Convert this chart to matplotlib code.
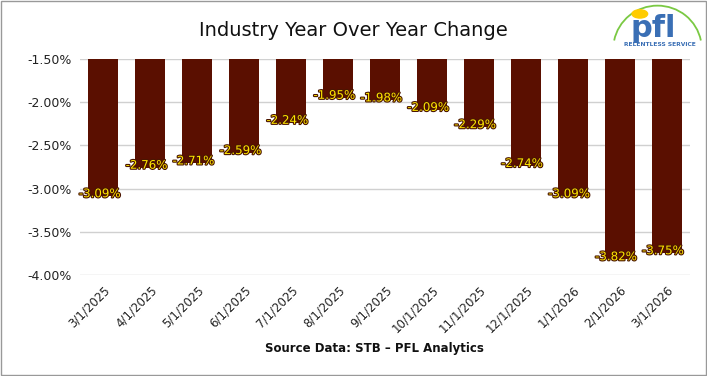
import matplotlib.pyplot as plt
import matplotlib.patheffects as pe
from matplotlib.patches import Rectangle, Arc, Circle
import numpy as np

dates = ["3/1/2025", "4/1/2025", "5/1/2025", "6/1/2025", "7/1/2025", "8/1/2025",
         "9/1/2025", "10/1/2025", "11/1/2025", "12/1/2025", "1/1/2026", "2/1/2026",
         "3/1/2026"]
yoy_change = [-3.09, -2.76, -2.71, -2.59, -2.24, -1.95, -1.98, -2.09, -2.29,
              -2.74, -3.09, -3.82, -3.75]
y_ticks = [-1.5, -2.0, -2.5, -3.0, -3.5, -4.0]
base = -1.5

BAR = "#5a0f00"

fig = plt.figure(figsize=(7.07, 3.76), dpi=100)
ax = fig.add_axes([0.113, 0.269, 0.863, 0.574])

x = np.arange(len(dates))
vals = np.array(yoy_change)
ax.bar(x, vals - base, bottom=base, width=0.64, color=BAR, zorder=3)

for i, v in enumerate(vals):
    ax.text(i - 0.08, v + 0.03, f"{v:.2f}%", ha="center", va="center", fontsize=8.5,
            color="#ffe600", zorder=5,
            path_effects=[pe.withStroke(linewidth=1.6, foreground="#4a1500")])

ax.set_ylim(-4.0, -1.5)
ax.set_xlim(-0.5, len(dates) - 0.5)
ax.set_yticks(y_ticks)
ax.set_yticklabels([f"{t:.2f}%" for t in y_ticks], fontsize=9, color="#222222")
ax.set_xticks(x)
ax.set_xticklabels(dates, rotation=45, ha="right", rotation_mode="anchor",
                   fontsize=8.5, color="#222222")
ax.tick_params(axis="both", length=0, pad=6)
ax.grid(axis="y", color="#d0d0d0", linewidth=1, zorder=0)
for s in ax.spines.values():
    s.set_visible(False)

fig.text(0.5, 0.92, "Industry Year Over Year Change", ha="center", va="center",
         fontsize=14, color="#111111")
fig.text(0.53, 0.072, "Source Data: STB \u2013 PFL Analytics", ha="center", va="center",
         fontsize=8.5, fontweight="bold", color="#111111")

# logo
fig.add_artist(Arc((0.93, 0.87), 0.125, 0.23, theta1=20, theta2=160,
                   transform=fig.transFigure, color="#7ac943", lw=1.3))
fig.add_artist(Circle((0.905, 0.963), 0.011, transform=fig.transFigure,
                      color="#ffcc00", zorder=4))
fig.text(0.924, 0.925, "pfl", ha="center", va="center", fontsize=22,
         fontweight="bold", color="#3a6fb5")
fig.text(0.933, 0.882, "RELENTLESS SERVICE", ha="center", va="center",
         fontsize=4.3, fontweight="bold", color="#3a6fb5")

fig.add_artist(Rectangle((0.001, 0.002), 0.997, 0.995, transform=fig.transFigure,
                         fill=False, edgecolor="#999999", lw=1))

fig.savefig("out.png", dpi=100)
